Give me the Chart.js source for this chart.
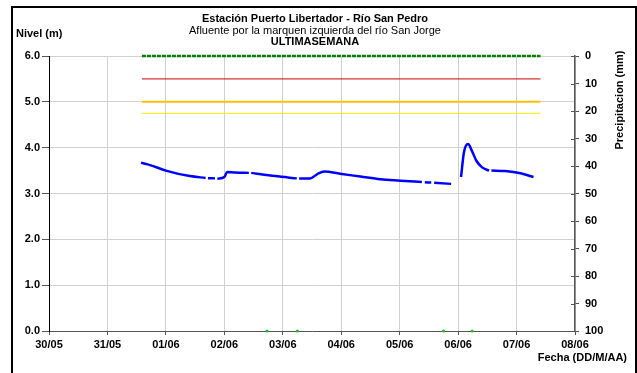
<!DOCTYPE html>
<html>
<head>
<meta charset="utf-8">
<script src="https://cdn.jsdelivr.net/npm/chart.js@4.4.1/dist/chart.umd.min.js"></script>
<style>
  html, body { margin: 0; padding: 0; background: #fff; }
  #wrap { width: 637px; height: 373px; position: relative; }
</style>
</head>
<body>
<div id="wrap"><canvas id="grafico" width="637" height="373"></canvas></div>
<script>
// etiquetas del eje de fechas (dias desde 30/05)
const etiquetasFecha = ['30/05', '31/05', '01/06', '02/06', '03/06', '04/06', '05/06', '06/06', '07/06', '08/06'];

// nivel del rio (m) - null = hueco en el registro
const nivelFecha = [1.575, 1.73, 2.00, 2.41, 2.68, 2.70, 2.72, 2.84, 2.86, 2.88, 3.00, 3.05, 3.18, 3.42, 3.44, 3.46, 3.87, 4.24, 4.26, 4.28, 4.47, 4.61, 4.71, 4.98, 5.33, 5.67, 6.01, 6.38, 6.40, 6.43, 6.54, 6.56, 6.59, 6.88, 6.96, 7.05, 7.10, 7.17, 7.24, 7.31, 7.41, 7.53, 7.55, 7.57, 7.81, 8.07, 8.29];
const nivelM =     [3.67, 3.62, 3.50, 3.38, 3.34, null, 3.335, 3.33, null, 3.32, 3.36, 3.47, 3.46, 3.45, null, 3.45, 3.38, 3.33, null, 3.33, 3.33, 3.44, 3.48, 3.43, 3.37, 3.31, 3.28, 3.25, null, 3.245, 3.24, null, 3.235, 3.21, null, 3.36, 3.90, 4.08, 3.92, 3.72, 3.57, 3.50, null, 3.50, 3.49, 3.44, 3.36];

// niveles de alerta
const periodoAlerta = [1.59, 8.41];
const alertaRoja = 5.5;
const alertaNaranja = 5.0;
const alertaAmarilla = 4.75;

// precipitacion (mm)
const precipFecha = [1.59, 8.41];
const precipMm = [0, 0];

// marcas verdes sobre el eje
const marcasFecha = [3.73, 4.25, 6.75, 7.24];
const marcasValor = [0, 0, 0, 0];

const pares = (xs, ys) => xs.map((x, i) => ({ x: x, y: ys[i] }));
const constante = (xs, v) => xs.map(x => ({ x: x, y: v }));

const fuente = 'Liberation Sans, Arial, sans-serif';
const tickFont = { family: fuente, size: 11, weight: 'bold' };

// textos y marco dibujados a mano
const textos = {
  id: 'textos',
  afterDraw(chart) {
    const c = chart.ctx;
    const area = chart.chartArea;
    c.save();
    c.fillStyle = '#000';
    c.textBaseline = 'middle';
    c.textAlign = 'center';
    c.font = 'bold 11px ' + fuente;
    c.fillText('Estación Puerto Libertador - Río San Pedro', 315, 19);
    c.font = '11px ' + fuente;
    c.fillText('Afluente por la marquen izquierda del río San Jorge', 315, 31);
    c.font = 'bold 11px ' + fuente;
    c.fillText('ULTIMASEMANA', 315, 42);
    c.textAlign = 'left';
    c.fillText('Nivel (m)', 16, 34);
    c.textAlign = 'right';
    c.fillText('Fecha (DD/M/AA)', 627, 358);
    c.save();
    c.translate(620, 100);
    c.rotate(-Math.PI / 2);
    c.textAlign = 'center';
    c.fillText('Precipitacion (mm)', 0, 0);
    c.restore();
    // ticks interiores del eje derecho
    const y1 = chart.scales.y1;
    c.strokeStyle = '#555';
    c.lineWidth = 1;
    y1.ticks.forEach(t => {
      const py = Math.round(y1.getPixelForValue(t.value)) + 0.5;
      c.beginPath();
      c.moveTo(area.right - 4, py);
      c.lineTo(area.right, py);
      c.stroke();
    });
    // marco
    c.strokeStyle = '#000';
    c.lineWidth = 2;
    c.strokeRect(12, 7, 624, 380);
    c.restore();
  }
};

new Chart(document.getElementById('grafico'), {
  type: 'line',
  data: {
    datasets: [
      {
        label: 'Precipitacion',
        data: pares(precipFecha, precipMm),
        yAxisID: 'y1',
        borderColor: '#008000',
        borderWidth: 2.5,
        borderDash: [4, 1],
        pointRadius: 0,
        clip: false
      },
      {
        label: 'Alerta roja',
        data: constante(periodoAlerta, alertaRoja),
        borderColor: '#c80000',
        borderWidth: 1,
        pointRadius: 0
      },
      {
        label: 'Alerta naranja',
        data: constante(periodoAlerta, alertaNaranja),
        borderColor: '#ffc000',
        borderWidth: 2,
        pointRadius: 0
      },
      {
        label: 'Alerta amarilla',
        data: constante(periodoAlerta, alertaAmarilla),
        borderColor: '#f5ea00',
        borderWidth: 1,
        pointRadius: 0
      },
      {
        label: 'Nivel',
        data: pares(nivelFecha, nivelM),
        borderColor: '#0000ff',
        borderWidth: 2.5,
        pointRadius: 0,
        cubicInterpolationMode: 'monotone',
        spanGaps: false
      },
      {
        label: 'Marcas',
        data: pares(marcasFecha, marcasValor),
        showLine: false,
        pointRadius: 1.5,
        pointBackgroundColor: '#22bb22',
        pointBorderWidth: 0,
        clip: false
      }
    ]
  },
  options: {
    responsive: false,
    animation: false,
    layout: { padding: { left: 0, top: 56, right: 0, bottom: 0 } },
    plugins: {
      legend: { display: false },
      tooltip: { enabled: false }
    },
    scales: {
      x: {
        type: 'linear',
        min: 0,
        max: 9,
        afterFit: s => { s.height = 42; },
        ticks: {
          stepSize: 1,
          autoSkip: false,
          maxRotation: 0,
          font: tickFont,
          color: '#000',
          padding: 3,
          callback: v => etiquetasFecha[v]
        },
        grid: { color: '#d0d0d0', tickColor: '#555', tickLength: 4 },
        border: { color: '#555' }
      },
      y: {
        position: 'left',
        min: 0,
        max: 6,
        afterFit: s => { s.width = 49; },
        ticks: {
          stepSize: 1,
          font: tickFont,
          color: '#000',
          padding: 2,
          callback: v => v.toFixed(1)
        },
        grid: { color: '#d0d0d0', tickColor: '#555', tickLength: 7 },
        border: { color: '#000' }
      },
      y1: {
        position: 'right',
        min: 0,
        max: 100,
        reverse: true,
        afterFit: s => { s.width = 62; },
        ticks: {
          stepSize: 10,
          font: tickFont,
          color: '#000',
          padding: 6
        },
        grid: { drawOnChartArea: false, tickColor: '#555', tickLength: 4 },
        border: { color: '#555', width: 1.5 }
      }
    }
  },
  plugins: [textos]
});
</script>
</body>
</html>
